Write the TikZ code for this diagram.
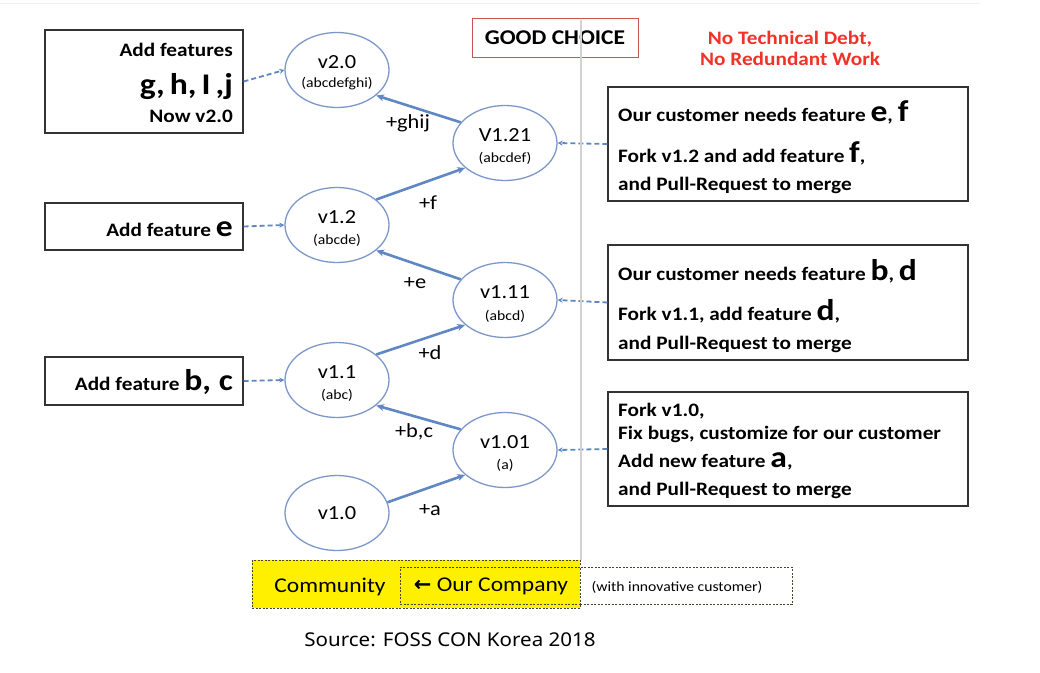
\documentclass[tikz,border=0pt]{standalone}
\usepackage{fontspec}
\setmainfont{Carlito}[FakeStretch=1.12]
\newfontfamily\srcfont{Noto Sans}[FakeStretch=1.08]
\newfontfamily\arrowfont{DejaVu Sans}
\usetikzlibrary{shapes.geometric,arrows.meta}
\definecolor{lineblue}{RGB}{95,135,196}
\definecolor{ellblue}{RGB}{125,152,200}
\definecolor{redtxt}{RGB}{242,50,40}
\definecolor{boxred}{RGB}{200,85,85}
\definecolor{legyellow}{RGB}{255,240,0}
\definecolor{dashdark}{RGB}{70,70,40}
\newcommand\bigch[1]{{\fontsize{30}{32}\selectfont #1}}
\begin{document}
\begin{tikzpicture}[x=1pt,y=-1pt,
  ver/.style={ellipse,draw=ellblue,line width=1.3pt,minimum width=104pt,minimum height=75pt,inner sep=0pt,fill=white},
  vname/.style={font=\fontsize{20}{22}\selectfont,inner sep=0pt},
  vsub/.style={font=\fontsize{14}{16}\selectfont,inner sep=0pt},
  infobox/.style={draw=black!80,line width=1.1pt,inner sep=0pt},
  bt/.style={font=\fontsize{19}{21}\selectfont\bfseries,inner sep=0pt},
  bigt/.style={font=\fontsize{30}{32}\selectfont\bfseries,inner sep=0pt},
  plus/.style={font=\fontsize{20}{22}\selectfont,inner sep=0pt},
  merge/.style={draw=lineblue,line width=2.6pt,-{Stealth[length=8pt,width=7pt]}},
  link/.style={draw=lineblue,line width=1.8pt,dash pattern=on 5pt off 3pt,-{Stealth[length=5pt,width=5pt]}},
  legbox/.style={draw=dashdark,line width=1pt,dash pattern=on 2pt off 1.5pt,inner sep=0pt}
]
\useasboundingbox (0,0) rectangle (1040,672);
\fill[white] (0,0) rectangle (1040,672);
\draw[gray!12,line width=1pt] (0,3) -- (980,3);

% version ellipses
\node[ver] (v20)  at (337,70)  {};
\node[ver] (v121) at (505,143) {};
\node[ver] (v12)  at (337,225) {};
\node[ver] (v111) at (505,300) {};
\node[ver] (v11)  at (337,380) {};
\node[ver] (v101) at (505,450) {};
\node[ver] (v10)  at (337,513) {};

\node[vname] (t20)  at (337,62)  {v2.0};
\node[vsub]  (s20)  at (337,84)  {(abcdefghi)};
\node[vname] (t121) at (505,135) {V1.21};
\node[vsub]  (s121) at (505,158) {(abcdef)};
\node[vname] (t12)  at (337,217) {v1.2};
\node[vsub]  (s12)  at (337,240) {(abcde)};
\node[vname] (t111) at (505,292) {v1.11};
\node[vsub]  (s111) at (505,316) {(abcd)};
\node[vname] (t11)  at (337,372) {v1.1};
\node[vsub]  (s11)  at (337,395) {(abc)};
\node[vname] (t101) at (505,442) {v1.01};
\node[vsub]  (s101) at (505,465) {(a)};
\node[vname] (t10)  at (337,513) {v1.0};

% merges
\draw[merge] (v10.12)   -- (v101.212);
\draw[merge] (v101.155) -- (v11.-33);
\draw[merge] (v11.33)   -- (v111.212);
\draw[merge] (v111.155) -- (v12.-33);
\draw[merge] (v12.33)   -- (v121.212);
\draw[merge] (v121.155) -- (v20.-33);

\node[plus] (pa)    at (430,510) {+a};
\node[plus] (pbc)   at (414,432) {+b,c};
\node[plus] (pd)    at (430,353) {+d};
\node[plus] (pe)    at (415,283) {+e};
\node[plus] (pf)    at (428,203) {+f};
\node[plus] (pghij) at (408,123) {+ghij};

% left boxes
\node[infobox,minimum width=198pt,minimum height=103pt] (b1) at (144,81.5) {};
\node[bt,anchor=base east]   (b1a) at (233,56)  {Add features};
\node[bigt,anchor=base east] (b1b) at (233,94)  {g,\,h,\,I\,,j};
\node[bt,anchor=base east]   (b1c) at (233,122) {Now v2.0};

\node[infobox,minimum width=198pt,minimum height=47pt] (b2) at (144,226.5) {};
\node[bt,anchor=base east] (b2a) at (233,236) {Add feature \bigch{e}};

\node[infobox,minimum width=198pt,minimum height=48pt] (b3) at (144,381) {};
\node[bt,anchor=base east] (b3a) at (233,390) {Add feature \bigch{b, c}};

\draw[link] (b1.east) -- (v20.west);
\draw[link] (b2.east) -- (v12.west);
\draw[link] (b3.east) -- (v11.west);

% right boxes
\node[infobox,minimum width=360pt,minimum height=114pt] (b4) at (788,144) {};
\node[bt,anchor=base west] (b4a) at (618,121) {Our customer needs feature \bigch{e}, \bigch{f}};
\node[bt,anchor=base west] (b4b) at (618,162) {Fork v1.2 and add feature \bigch{f},};
\node[bt,anchor=base west] (b4c) at (618,190) {and Pull-Request to merge};

\node[infobox,minimum width=360pt,minimum height=115pt] (b5) at (788,302.5) {};
\node[bt,anchor=base west] (b5a) at (618,280) {Our customer needs feature \bigch{b}, \bigch{d}};
\node[bt,anchor=base west] (b5b) at (618,320) {Fork v1.1, add feature \bigch{d},};
\node[bt,anchor=base west] (b5c) at (618,349) {and Pull-Request to merge};

\node[infobox,minimum width=360pt,minimum height=114pt] (b6) at (788,449) {};
\node[bt,anchor=base west] (b6a) at (618,416) {Fork v1.0,};
\node[bt,anchor=base west] (b6b) at (618,439) {Fix bugs, customize for our customer};
\node[bt,anchor=base west] (b6c) at (618,467) {Add new feature \bigch{a},};
\node[bt,anchor=base west] (b6d) at (618,495) {and Pull-Request to merge};

\draw[link] (b4.west) -- (v121.east);
\draw[link] (b5.west) -- (v111.east);
\draw[link] (b6.west) -- (v101.east);

% header
\node[draw=boxred,line width=1pt,minimum width=166pt,minimum height=39pt,inner sep=0pt,
      font=\fontsize{21}{23}\selectfont\bfseries] (good) at (555,37.5) {GOOD CHOICE};
\node[font=\fontsize{19}{21}\selectfont\bfseries,text=redtxt,align=center,inner sep=0pt] (debt) at (790,48)
  {No Technical Debt,\\No Redundant Work};

\draw[gray!35,line width=1.3pt] (581,20) -- (581,560);

% legend
\node[legbox,fill=legyellow,minimum width=328pt,minimum height=48pt] (leg) at (416,584) {};
\node[legbox,minimum width=180pt,minimum height=37pt] (comp) at (490,585.5) {};
\node[legbox,fill=white,minimum width=212pt,minimum height=37pt] (cust) at (686,585.5) {};
\node[font=\fontsize{21}{23}\selectfont,inner sep=0pt] (commt) at (330,587) {Community};
\node[font=\fontsize{21}{23}\selectfont,inner sep=0pt] (compt) at (491,586) {{\arrowfont\bfseries ←} Our Company};
\node[font=\fontsize{14}{16}\selectfont,inner sep=0pt] (custt) at (677,587) {(with innovative customer)};

\node[font=\srcfont\fontsize{19}{21}\selectfont,inner sep=0pt] (src) at (450,640) {Source: FOSS CON Korea 2018};
\end{tikzpicture}
\end{document}
